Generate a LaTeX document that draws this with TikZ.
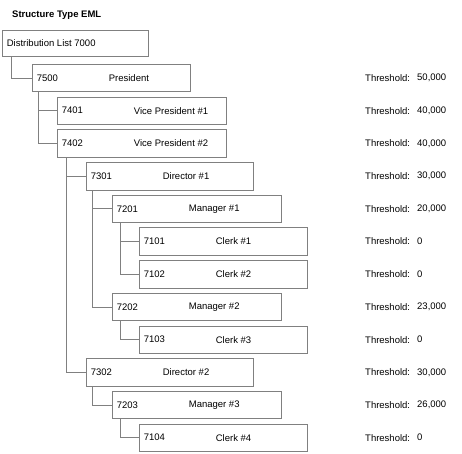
\documentclass[tikz,border=0pt]{standalone}
\usepackage{fontspec}
\setmainfont{Liberation Sans}
\begin{document}
\begin{tikzpicture}[x=1pt,y=-1pt,
  every node/.style={font=\fontsize{9.5}{11}\selectfont},
  box/.style={draw=linegray,line width=0.7pt,rectangle,inner sep=0pt,minimum height=27.5pt},
  txt/.style={inner sep=0pt,anchor=west,text=black},
  conn/.style={draw=linegray,line width=0.7pt}]
\definecolor{linegray}{RGB}{128,128,128}
\useasboundingbox (0,0) rectangle (462,453);
% title
\node[txt,font=\fontsize{9.5}{11}\selectfont\bfseries] (title) at (12,15) {Structure Type EML};
% boxes: (left+right)/2, row centre
\node[box,minimum width=146pt,minimum height=26pt] (b0) at (75,43) {};
\node[box,minimum width=158pt] (b7500) at (111,78) {};
\node[box,minimum width=169pt] (b7401) at (141.5,110.7) {};
\node[box,minimum width=169pt] (b7402) at (141.5,143.4) {};
\node[box,minimum width=167pt] (b7301) at (169.5,176.1) {};
\node[box,minimum width=169pt] (b7201) at (196.5,208.8) {};
\node[box,minimum width=168pt] (b7101) at (223,241.5) {};
\node[box,minimum width=168pt] (b7102) at (223,274.2) {};
\node[box,minimum width=169pt] (b7202) at (196.5,306.9) {};
\node[box,minimum width=168pt] (b7103) at (223,339.6) {};
\node[box,minimum width=167pt] (b7302) at (169.5,372.3) {};
\node[box,minimum width=169pt] (b7203) at (196.5,405) {};
\node[box,minimum width=168pt] (b7104) at (223,437.7) {};
% box texts
\node[txt] (t0) at ([xshift=5pt]b0.west) {Distribution List 7000};
\foreach \k/\n in {7500/President,7401/Vice President \#1,7402/Vice President \#2,
  7301/Director \#1,7201/Manager \#1,7101/Clerk \#1,7102/Clerk \#2,
  7202/Manager \#2,7103/Clerk \#3,7302/Director \#2,7203/Manager \#3,7104/Clerk \#4}{
  \node[txt] (num\k) at ([xshift=5pt]b\k.west) {\k};
  \node[txt] (name\k) at ([xshift=77pt]b\k.west) {\n};
}
% thresholds
\foreach \k/\v in {7500/{50,000},7401/{40,000},7402/{40,000},7301/{30,000},
  7201/{20,000},7101/0,7102/0,7202/{23,000},7103/0,7302/{30,000},
  7203/{26,000},7104/0}{
  \node[txt] (thr\k) at (365,0 |- b\k.west) {Threshold:};
  \node[txt] (val\k) at (417,0 |- b\k.west) {\v};
}
% connectors
\draw[conn] ([xshift=10pt]b0.south west) |- (b7500.west);
\draw[conn] ([xshift=7pt]b7500.south west) |- (b7401.west);
\draw[conn] ([xshift=7pt]b7500.south west) |- (b7402.west);
\draw[conn] ([xshift=10pt]b7402.south west) |- (b7301.west);
\draw[conn] ([xshift=10pt]b7402.south west) |- (b7302.west);
\draw[conn] ([xshift=7pt]b7301.south west) |- (b7201.west);
\draw[conn] ([xshift=7pt]b7301.south west) |- (b7202.west);
\draw[conn] ([xshift=9pt]b7201.south west) |- (b7101.west);
\draw[conn] ([xshift=9pt]b7201.south west) |- (b7102.west);
\draw[conn] ([xshift=9pt]b7202.south west) |- (b7103.west);
\draw[conn] ([xshift=7pt]b7302.south west) |- (b7203.west);
\draw[conn] ([xshift=9pt]b7203.south west) |- (b7104.west);
\end{tikzpicture}
\end{document}
